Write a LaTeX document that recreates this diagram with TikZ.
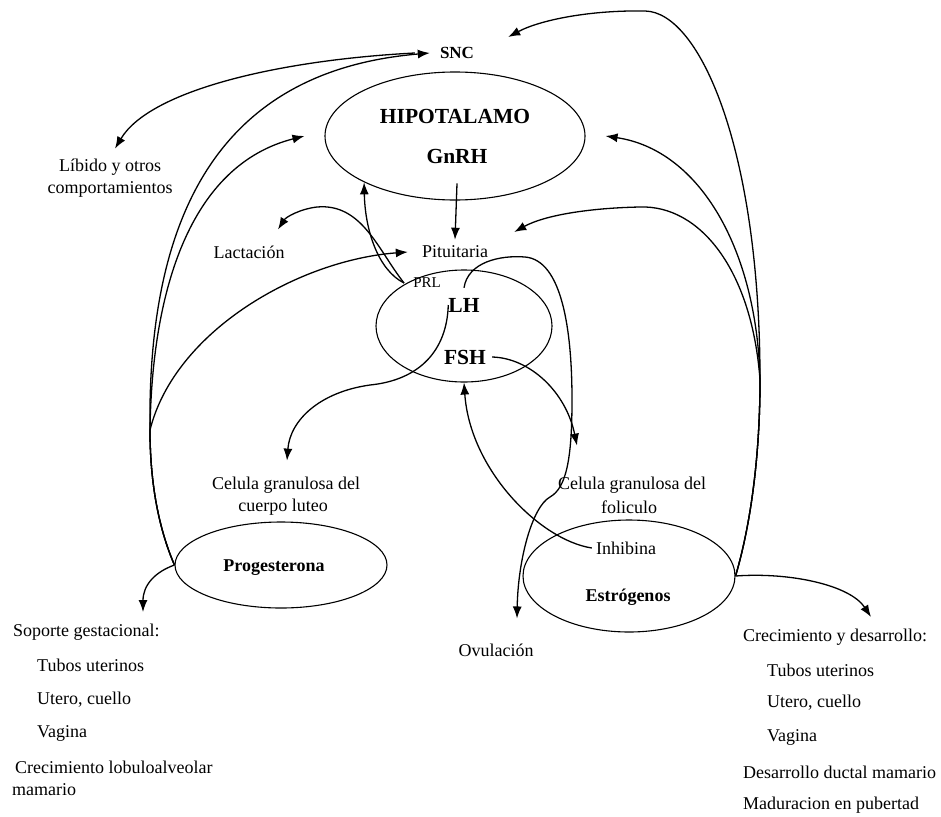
\documentclass[tikz,border=0pt]{standalone}
\usepackage{fontspec}
\setmainfont{Liberation Serif}
\usetikzlibrary{shapes.geometric,arrows.meta}
\tikzset{
  txt/.style={font=\fontsize{18}{20}\selectfont, inner sep=0pt},
  smalltxt/.style={font=\fontsize{15}{17}\selectfont, inner sep=0pt},
  btxt/.style={font=\fontsize{21.5}{24}\selectfont\bfseries, inner sep=0pt},
  mtxt/.style={font=\fontsize{18}{20}\selectfont\bfseries, inner sep=0pt},
  stxt/.style={font=\fontsize{17}{19}\selectfont\bfseries, inner sep=0pt},
  ltxt/.style={txt, anchor=west},
  oval/.style={draw, ellipse, line width=1.1pt, inner sep=0pt},
  conn/.style={line width=1.3pt, -{Latex[length=12pt,width=9pt]}},
}
\begin{document}
\begin{tikzpicture}[x=1pt,y=-1pt]
\useasboundingbox (0,0) rectangle (941,816);
% ellipses
\node[oval, minimum width=260pt, minimum height=128pt] (hipo) at (455,136) {};
\node[oval, minimum width=176pt, minimum height=112pt] (pit) at (464,326) {};
\node[oval, minimum width=212pt, minimum height=86pt] (prog) at (281,565) {};
\node[oval, minimum width=212pt, minimum height=112pt] (estr) at (629,576) {};
% texts
\node[stxt] (snc) at (457,53) {SNC};
\node[btxt] (hipotxt) at (455,116) {HIPOTALAMO};
\node[btxt] (gnrh) at (457,156) {GnRH};
\node[txt] (pitu) at (455,252) {Pituitaria};
\node[txt] (lact) at (249,252) {Lactación};
\node[txt] (lib1) at (110,167) {Líbido y otros};
\node[txt] (lib2) at (110,189) {comportamientos};
\node[smalltxt] (prl) at (427,283) {PRL};
\node[btxt] (lh) at (464,305) {LH};
\node[btxt] (fsh) at (465,357) {FSH};
\node[txt] (cel1) at (286,485) {Celula granulosa del};
\node[txt] (cel1b) at (283,507) {cuerpo luteo};
\node[mtxt] (progtxt) at (274,568) {Progesterona};
\node[txt] (cel2) at (632,485) {Celula granulosa del};
\node[txt] (cel2b) at (629,507) {foliculo};
\node[txt] (inh) at (626,548) {Inhibina};
\node[mtxt] (estrtxt) at (628,597) {Estrógenos};
\node[txt] (ovul) at (496,650) {Ovulación};
% right list
\node[ltxt] (crec) at (743,637) {Crecimiento y desarrollo:};
\node[ltxt] (r1) at (767,670) {Tubos uterinos};
\node[ltxt] (r2) at (767,703) {Utero, cuello};
\node[ltxt] (r3) at (767,737) {Vagina};
\node[ltxt] (r4) at (743,772) {Desarrollo ductal mamario};
\node[ltxt] (r5) at (743,805) {Maduracion en pubertad};
% left list
\node[ltxt] (sop) at (13,632) {Soporte gestacional:};
\node[ltxt] (l1) at (37,665) {Tubos uterinos};
\node[ltxt] (l2) at (37,700) {Utero, cuello};
\node[ltxt] (l3) at (37,733) {Vagina};
\node[ltxt] (l4) at (15,767) {Crecimiento lobuloalveolar};
\node[ltxt] (l5) at (12,790) {mamario};
% hypothalamus -> pituitary
\draw[conn] ([yshift=-20pt]gnrh.south) -- ([yshift=6pt]pitu.north);
% SNC -> libido
\draw[conn] ([xshift=-25pt]snc.west) .. controls (280,60) and (150,90) .. ([xshift=5pt,yshift=10pt]lib1.north);
% progesterona bundle
\draw[conn] (prog.west) .. controls (155,520) and (150,470) .. (150,430) .. controls (147,200) and (230,70) .. ([xshift=-10pt]snc.west);
\draw[conn] (prog.west) .. controls (155,520) and (150,470) .. (150,430) .. controls (152,290) and (190,165) .. ([xshift=-20pt]hipo.west);
\draw[conn] (prog.west) .. controls (155,520) and (150,470) .. (150,430) .. controls (175,330) and (300,260) .. ([xshift=-14pt]pitu.west);
\draw[conn] (prog.west) .. controls (155,572) and (143,585) .. ([xshift=130pt,yshift=20pt]sop.west);
% estrogenos bundle
\draw[conn] (estr.east) .. controls (752,520) and (760,450) .. (760,380) .. controls (760,150) and (700,12) .. (645,11) .. controls (590,10) and (540,20) .. ([xshift=34pt,yshift=16pt]snc.east);
\draw[conn] (estr.east) .. controls (752,520) and (760,450) .. (760,380) .. controls (757,250) and (700,150) .. ([xshift=20pt]hipo.east);
\draw[conn] (estr.east) .. controls (752,520) and (760,450) .. (760,380) .. controls (752,270) and (700,205) .. (640,207) .. controls (590,208) and (545,215) .. ([xshift=26pt,yshift=20pt]pitu.east);
\draw[conn] (estr.east) .. controls (790,572) and (850,585) .. ([xshift=128pt,yshift=20pt]crec.west);
% PRL
\draw[conn] ([xshift=-9pt]prl.west) .. controls (378,270) and (365,230) .. (hipo.207);
\draw[conn] ([xshift=-9pt]prl.west) .. controls (378,250) and (362,203) .. (317,207) .. controls (300,209) and (286,217) .. ([xshift=29pt,yshift=16pt]lact.north);
% LH
\draw[conn] (lh.west) .. controls (447,350) and (420,380) .. (370,385) .. controls (320,392) and (290,420) .. ([xshift=1pt,yshift=16pt]cel1.north);
\draw[conn] ([yshift=10pt]lh.north) .. controls (468,262) and (500,255) .. (525,257) .. controls (562,260) and (572,330) .. (572,400) .. controls (572,460) and (566,488) .. (550,497) .. controls (532,507) and (518,560) .. ([xshift=21pt,yshift=25pt]ovul.north);
% FSH
\draw[conn] ([xshift=6pt]fsh.east) .. controls (530,358) and (566,392) .. ([xshift=-55pt,yshift=31pt]cel2.north);
% Inhibina -> FSH
\draw[conn] ([xshift=-4pt]inh.west) .. controls (540,540) and (470,470) .. (pit.south);
\end{tikzpicture}
\end{document}
